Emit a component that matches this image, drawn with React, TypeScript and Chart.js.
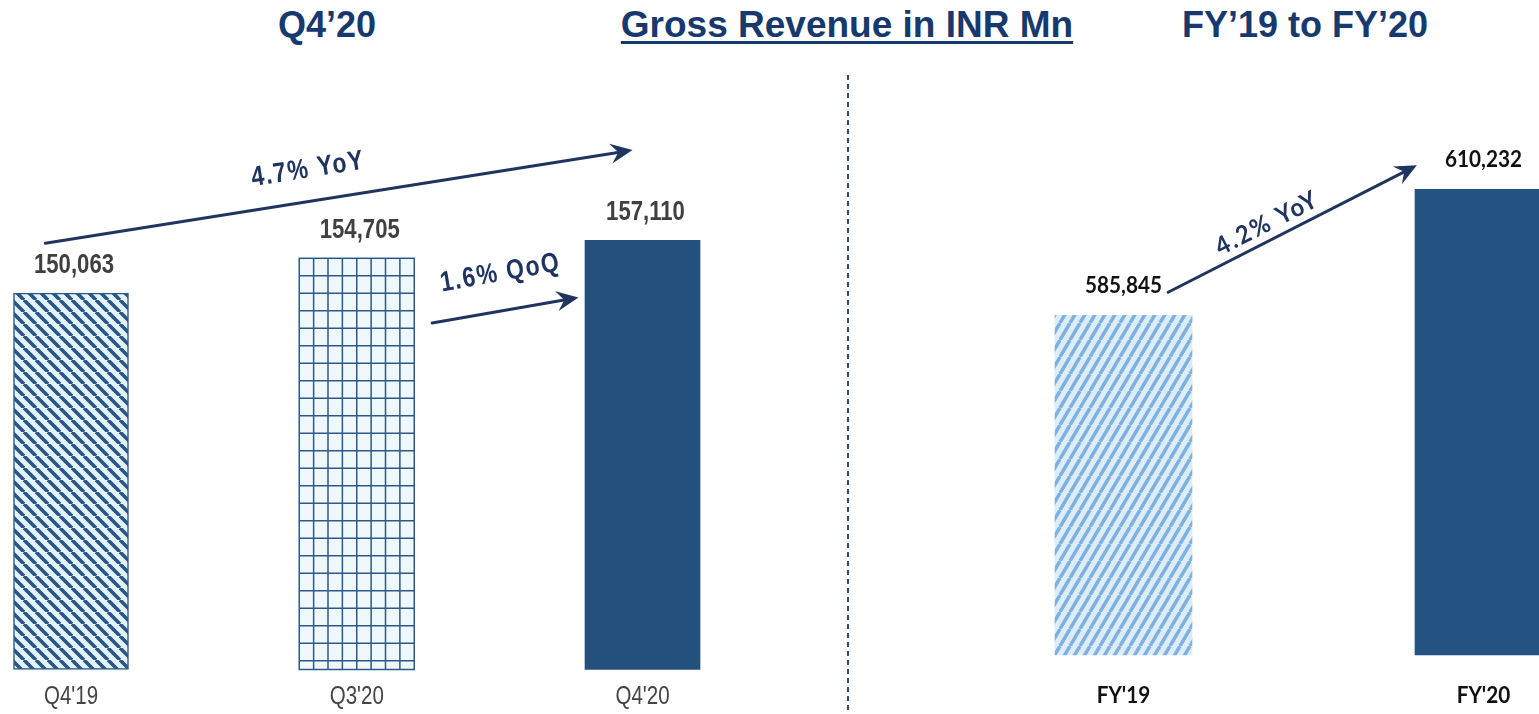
import React, { useEffect, useRef } from "react";
import { Chart, registerables } from "chart.js";

Chart.register(...registerables);

// ---------- data ----------
const quarterLabels = ["Q4'19", "Q3'20", "Q4'20"];
const quarterValues = [150063, 154705, 157110];
const yearLabels = ["FY'19", "FY'20"];
const yearValues = [585845, 610232];

const quarterAxisMin = 100000;
const quarterAxisMax = 160000;
const yearAxisMin = 520000;
const yearAxisMax = 620000;

// growth annotations, anchored in data space: [category index, value]
const quarterArrowFrom = [[-0.09, 156700], [1.264, 146100]];
const quarterArrowTo = [[1.965, 169100], [1.776, 149500]];
const quarterArrowText = ["4.7% YoY", "1.6% QoQ"];
const quarterArrowTextAt = [[0.83, 166500], [1.503, 152700]];

const yearArrowFrom = [[0.124, 590300]];
const yearArrowTo = [[0.815, 614900]];
const yearArrowText = ["4.2% YoY"];
const yearArrowTextAt = [[0.399, 603700]];

// ---------- styles ----------
const NAVY = "#23507c";
const ARROW = "#1f3560";
const HEAD = "#17396d";
const ARIAL = "'Liberation Sans', Arial, sans-serif";
const LATO = "Lato, 'Noto Sans', sans-serif";

type TextStyle = { font: string; color: string; sx: number; spacing?: string };

function drawText(
  ctx: CanvasRenderingContext2D,
  text: string,
  x: number,
  y: number,
  st: TextStyle,
  angle = 0
) {
  ctx.save();
  ctx.translate(x, y);
  ctx.rotate(angle);
  ctx.scale(st.sx, 1);
  ctx.font = st.font;
  (ctx as any).letterSpacing = st.spacing || "0px";
  ctx.fillStyle = st.color;
  ctx.textAlign = "center";
  ctx.textBaseline = "middle";
  ctx.fillText(text, 0, 0);
  ctx.restore();
}

function stripePattern(
  ctx: CanvasRenderingContext2D,
  w: number,
  h: number,
  thick: number,
  fg: string,
  bg: string,
  dir: "back" | "fwd"
) {
  const c = document.createElement("canvas");
  c.width = w;
  c.height = h;
  const g = c.getContext("2d")!;
  g.fillStyle = bg;
  g.fillRect(0, 0, w, h);
  g.strokeStyle = fg;
  g.lineWidth = thick;
  g.beginPath();
  for (let k = -1; k <= 1; k++) {
    if (dir === "back") {
      g.moveTo(k * w, 0);
      g.lineTo((k + 1) * w, h);
    } else {
      g.moveTo(k * w, h);
      g.lineTo((k + 1) * w, 0);
    }
  }
  g.stroke();
  return ctx.createPattern(c, "repeat")!;
}

function drawArrow(ctx: CanvasRenderingContext2D, x1: number, y1: number, x2: number, y2: number) {
  const ang = Math.atan2(y2 - y1, x2 - x1);
  const headLen = 22;
  const headW = 10;
  ctx.save();
  ctx.strokeStyle = ARROW;
  ctx.fillStyle = ARROW;
  ctx.lineWidth = 3;
  ctx.lineCap = "round";
  ctx.beginPath();
  ctx.moveTo(x1, y1);
  ctx.lineTo(x2 - Math.cos(ang) * headLen * 0.6, y2 - Math.sin(ang) * headLen * 0.6);
  ctx.stroke();
  ctx.translate(x2, y2);
  ctx.rotate(ang);
  ctx.beginPath();
  ctx.moveTo(0, 0);
  ctx.lineTo(-headLen, -headW);
  ctx.lineTo(-headLen * 0.65, 0);
  ctx.lineTo(-headLen, headW);
  ctx.closePath();
  ctx.fill();
  ctx.restore();
}

function makeArrowPlugin(
  from: number[][],
  to: number[][],
  text: string[],
  at: number[][],
  st: TextStyle
) {
  return {
    id: "arrows",
    afterDraw(chart: any) {
      const ctx: CanvasRenderingContext2D = chart.ctx;
      const xs = chart.scales.x;
      const ys = chart.scales.y;
      for (let i = 0; i < from.length; i++) {
        const x1 = xs.getPixelForValue(from[i][0]);
        const y1 = ys.getPixelForValue(from[i][1]);
        const x2 = xs.getPixelForValue(to[i][0]);
        const y2 = ys.getPixelForValue(to[i][1]);
        drawArrow(ctx, x1, y1, x2, y2);
        const ang = Math.atan2(y2 - y1, x2 - x1);
        drawText(ctx, text[i], xs.getPixelForValue(at[i][0]), ys.getPixelForValue(at[i][1]), st, ang);
      }
    },
  };
}

function makeLabelPlugin(valueSt: TextStyle, lift: number, dx: number, tickSt: TextStyle, drop: number) {
  return {
    id: "labels",
    afterDatasetsDraw(chart: any) {
      const ctx: CanvasRenderingContext2D = chart.ctx;
      const meta = chart.getDatasetMeta(0);
      const data = chart.data.datasets[0].data as number[];
      const labels = chart.data.labels as string[];
      meta.data.forEach((bar: any, i: number) => {
        drawText(ctx, data[i].toLocaleString("en-US"), bar.x + dx, bar.y - lift, valueSt);
        drawText(ctx, labels[i], bar.x, chart.chartArea.bottom + drop, tickSt);
      });
    },
  };
}

const gridOverlay = {
  id: "gridOverlay",
  afterDatasetsDraw(chart: any) {
    const bar = chart.getDatasetMeta(0).data[1];
    if (!bar) return;
    const { x, y, base, width } = bar.getProps(["x", "y", "base", "width"], true);
    const left = x - width / 2;
    const right = x + width / 2;
    const ctx: CanvasRenderingContext2D = chart.ctx;
    ctx.save();
    ctx.strokeStyle = "#2c5985";
    ctx.lineWidth = 1.5;
    ctx.beginPath();
    const cols = 8;
    for (let k = 1; k < cols; k++) {
      const gx = left + (k * width) / cols;
      ctx.moveTo(gx, y);
      ctx.lineTo(gx, base);
    }
    for (let gy = y + 17.5; gy < base - 2; gy += 17.5) {
      ctx.moveTo(left, gy);
      ctx.lineTo(right, gy);
    }
    ctx.stroke();
    ctx.strokeRect(left, y, width, base - y);
    ctx.restore();
  },
};

export default function App() {
  const leftRef = useRef<HTMLCanvasElement>(null);
  const rightRef = useRef<HTMLCanvasElement>(null);

  useEffect(() => {
    const lctx = leftRef.current!.getContext("2d")!;
    const rctx = rightRef.current!.getContext("2d")!;

    const q419 = stripePattern(lctx, 12, 12, 3.6, "#2a5683", "#e4f2fb", "back");
    const fy19 = stripePattern(rctx, 10, 17, 3.5, "#7fb0de", "#dcedf9", "fwd");

    const left = new Chart(leftRef.current!, {
      type: "bar",
      data: {
        labels: quarterLabels,
        datasets: [
          {
            data: quarterValues,
            base: quarterAxisMin,
            backgroundColor: [q419, "#eef8fd", NAVY],
            borderColor: ["#2c5985", "#2c5985", NAVY],
            borderWidth: [1.5, 0, 0],
            borderSkipped: false,
            barThickness: 115,
            clip: false,
          } as any,
        ],
      },
      options: {
        animation: false,
        responsive: true,
        maintainAspectRatio: false,
        layout: { padding: { left: 71, right: 202.5, top: 218.5, bottom: 44.5 } },
        plugins: { legend: { display: false }, tooltip: { enabled: false } },
        scales: {
          x: { display: false, offset: false },
          y: { display: false, min: quarterAxisMin, max: quarterAxisMax },
        },
      },
      plugins: [
        gridOverlay,
        makeLabelPlugin(
          { font: `bold 27px ${ARIAL}`, color: "#404040", sx: 0.82 },
          28,
          3,
          { font: `25px ${ARIAL}`, color: "#444", sx: 0.82 },
          28
        ),
        makeArrowPlugin(quarterArrowFrom, quarterArrowTo, quarterArrowText, quarterArrowTextAt, {
          font: `bold 28px ${ARIAL}`,
          color: ARROW,
          sx: 0.82,
          spacing: "2px",
        }),
      ],
    });

    const right = new Chart(rightRef.current!, {
      type: "bar",
      data: {
        labels: yearLabels,
        datasets: [
          {
            data: yearValues,
            base: yearAxisMin,
            backgroundColor: [fy19, "#245283"],
            borderWidth: 0,
            barThickness: 137,
            clip: false,
          } as any,
        ],
      },
      options: {
        animation: false,
        responsive: true,
        maintainAspectRatio: false,
        layout: { padding: { left: 273.5, right: 55.5, top: 139, bottom: 59 } },
        plugins: { legend: { display: false }, tooltip: { enabled: false } },
        scales: {
          x: { display: false, offset: false },
          y: { display: false, min: yearAxisMin, max: yearAxisMax },
        },
      },
      plugins: [
        makeLabelPlugin(
          { font: `bold 23px ${LATO}`, color: "#111", sx: 0.9 },
          30,
          0,
          { font: `bold 23px ${LATO}`, color: "#111", sx: 0.9 },
          41
        ),
        makeArrowPlugin(yearArrowFrom, yearArrowTo, yearArrowText, yearArrowTextAt, {
          font: `bold 25px ${LATO}`,
          color: ARROW,
          sx: 0.95,
          spacing: "2px",
        }),
      ],
    });

    return () => {
      left.destroy();
      right.destroy();
    };
  }, []);

  const headStyle: React.CSSProperties = {
    position: "absolute",
    top: 4.5,
    width: 600,
    textAlign: "center",
    fontFamily: ARIAL,
    fontWeight: "bold",
    fontSize: 36,
    lineHeight: "40px",
    color: HEAD,
    whiteSpace: "nowrap",
  };

  return (
    <div
      style={{
        position: "fixed",
        left: 0,
        top: 0,
        width: 1539,
        height: 714,
        background: "#fff",
        overflow: "hidden",
      }}
    >
      <div style={{ ...headStyle, left: 327 - 300 }}>Q4’20</div>
      <div style={{ ...headStyle, left: 847 - 300, fontSize: 37 }}>
        <span
          style={{
            textDecoration: "underline",
            textDecorationThickness: "3px",
            textUnderlineOffset: "4px",
          }}
        >
          Gross Revenue in INR Mn
        </span>
      </div>
      <div style={{ ...headStyle, left: 1305 - 300 }}>FY’19 to FY’20</div>
      <div
        style={{
          position: "absolute",
          left: 847,
          top: 75,
          width: 2,
          height: 639,
          background: "repeating-linear-gradient(to bottom, #2b4c7e 0 5px, transparent 5px 9px)",
        }}
      />
      <div style={{ position: "absolute", left: 0, top: 0, width: 845, height: 714 }}>
        <canvas ref={leftRef} />
      </div>
      <div style={{ position: "absolute", left: 850, top: 0, width: 689, height: 714 }}>
        <canvas ref={rightRef} />
      </div>
    </div>
  );
}
